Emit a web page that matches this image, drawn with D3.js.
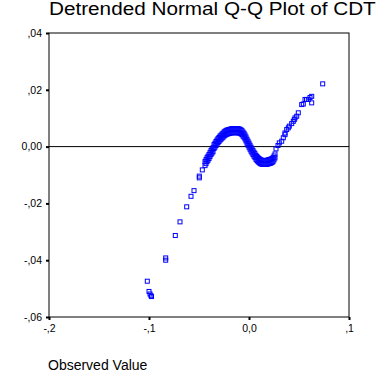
<!DOCTYPE html>
<html>
<head>
<meta charset="utf-8">
<script src="https://cdn.jsdelivr.net/npm/d3@7/dist/d3.min.js"></script>
<style>
  body { margin: 0; background: #fff; overflow: hidden; }
  text { font-family: "Liberation Sans", Arial, sans-serif; }
</style>
</head>
<body>
<script>
// tick values and their labels (SPSS style, comma decimals)
var xTicks = [-0.2, -0.1, 0.0, 0.1];
var xTickLabels = ["-,2", "-,1", "0,0", ",1"];
var yTicks = [0.04, 0.02, 0.00, -0.02, -0.04, -0.06];
var yTickLabels = [",04", ",02", "0,00", "-,02", "-,04", "-,06"];

var lowX = [-0.1017, -0.1000, -0.0990, -0.0980, -0.0975, -0.0833, -0.0833, -0.0737, -0.0690, -0.0623, -0.0580, -0.0550, -0.0497, -0.0497, -0.0467];
var lowY = [-0.0474, -0.0510, -0.0519, -0.0525, -0.0528, -0.0392, -0.0400, -0.0313, -0.0265, -0.0212, -0.0175, -0.0155, -0.0110, -0.0104, -0.0082];

// dense middle band: x, upper and lower edge of the band
var bandX = [-0.044, -0.043, -0.042, -0.041, -0.040, -0.039, -0.038, -0.037, -0.036, -0.035, -0.034, -0.033, -0.032, -0.031,
             -0.030, -0.029, -0.028, -0.027, -0.026, -0.025, -0.024, -0.023, -0.022, -0.021, -0.020, -0.019, -0.018, -0.017,
             -0.016, -0.015, -0.014, -0.013, -0.012, -0.011, -0.010, -0.009, -0.008, -0.007, -0.006, -0.005, -0.004, -0.003,
             -0.002, -0.001, 0.000, 0.001, 0.002, 0.003, 0.004, 0.005, 0.006, 0.007, 0.008, 0.009, 0.010, 0.011, 0.012, 0.013,
             0.014, 0.015, 0.016, 0.017, 0.018, 0.019, 0.020, 0.021, 0.022, 0.023, 0.024, 0.025, 0.026];
var bandHi = [-0.0053, -0.0046, -0.0039, -0.0034, -0.0028, -0.0021, -0.0014, -0.0009, -0.0004, 0.0007, 0.0012, 0.0018, 0.0023, 0.0028,
              0.0032, 0.0037, 0.0040, 0.0044, 0.0047, 0.0051, 0.0054, 0.0056, 0.0058, 0.0059, 0.0060, 0.0061, 0.0062, 0.0063,
              0.0063, 0.0063, 0.0063, 0.0063, 0.0063, 0.0063, 0.0062, 0.0061, 0.0059, 0.0056, 0.0051, 0.0047, 0.0041, 0.0034,
              0.0026, 0.0019, 0.0012, 0.0005, -0.0002, -0.0008, -0.0014, -0.0020, -0.0025, -0.0031, -0.0035, -0.0039, -0.0042,
              -0.0045, -0.0047, -0.0048, -0.0049, -0.0049, -0.0049, -0.0049, -0.0048, -0.0047, -0.0046, -0.0045, -0.0044,
              -0.0042, -0.0039, -0.0033, -0.0026];
var bandLo = [-0.0067, -0.0060, -0.0053, -0.0048, -0.0042, -0.0035, -0.0028, -0.0023, -0.0018, -0.0007, -0.0002, 0.0004, 0.0009, 0.0014,
              0.0018, 0.0023, 0.0026, 0.0030, 0.0033, 0.0037, 0.0040, 0.0042, 0.0044, 0.0045, 0.0046, 0.0047, 0.0048, 0.0049,
              0.0049, 0.0049, 0.0049, 0.0049, 0.0049, 0.0049, 0.0048, 0.0047, 0.0045, 0.0042, 0.0037, 0.0033, 0.0027, 0.0020,
              0.0012, 0.0005, -0.0002, -0.0009, -0.0016, -0.0022, -0.0028, -0.0034, -0.0039, -0.0045, -0.0049, -0.0053, -0.0056,
              -0.0059, -0.0061, -0.0062, -0.0063, -0.0063, -0.0063, -0.0063, -0.0062, -0.0061, -0.0060, -0.0059, -0.0058,
              -0.0056, -0.0053, -0.0047, -0.0040];

var highX = [0.0270, 0.0290, 0.0303, 0.0327, 0.0343, 0.0360, 0.0360, 0.0377, 0.0393, 0.0403, 0.0427, 0.0443, 0.0453, 0.0460,
             0.0477, 0.0493, 0.0527, 0.0543, 0.0560, 0.0575, 0.0593, 0.0610, 0.0627, 0.0627, 0.0737];
var highY = [-0.0008, 0.0004, 0.0013, 0.0019, 0.0031, 0.0042, 0.0048, 0.0060, 0.0066, 0.0072, 0.0081, 0.0089, 0.0095, 0.0101,
             0.0107, 0.0119, 0.0148, 0.0150, 0.0166, 0.0166, 0.0166, 0.0173, 0.0177, 0.0154, 0.0221];

var points = [];
lowX.forEach((x, i) => points.push([x, lowY[i]]));
bandX.forEach((x, i) => { points.push([x, bandHi[i]]); points.push([x, bandLo[i]]); });
highX.forEach((x, i) => points.push([x, highY[i]]));

var width = 377, height = 377;
var margin = {top: 33, right: 28, bottom: 60, left: 49};
var w = width - margin.left - margin.right;
var h = height - margin.top - margin.bottom;

var svg = d3.select("body").append("svg")
    .attr("width", width)
    .attr("height", height)
    .style("overflow", "hidden");

// title runs past the right edge, as in the original
svg.append("text")
    .attr("transform", "translate(" + margin.left + ",15) scale(1.12,1)")
    .attr("font-size", 18.5)
    .text("Detrended Normal Q-Q Plot of CDT");

var g = svg.append("g")
    .attr("transform", "translate(" + margin.left + "," + margin.top + ")");

var x = d3.scaleLinear().domain([-0.2, 0.1]).range([0, w]);
var y = d3.scaleLinear().domain([-0.06, 0.04]).range([h, 0]);

var xAxis = d3.axisBottom(x).tickValues(xTicks).tickSize(3).tickPadding(5)
    .tickFormat((d, i) => xTickLabels[i]);
var yAxis = d3.axisLeft(y).tickValues(yTicks).tickSize(3).tickPadding(4)
    .tickFormat((d, i) => yTickLabels[i]);

g.append("g").attr("transform", "translate(0," + h + ")").call(xAxis);
g.append("g").call(yAxis);
g.selectAll(".domain").remove();
g.selectAll(".tick line").attr("stroke", "#000").attr("stroke-width", 2);
g.selectAll(".tick text").attr("font-size", 10.5).attr("fill", "#000")
    .attr("font-family", "'Liberation Sans', Arial, sans-serif");

// frame
g.append("rect")
    .attr("x", 0).attr("y", 0)
    .attr("width", w).attr("height", h)
    .attr("fill", "none")
    .attr("stroke", "#000")
    .attr("stroke-width", 1);

// zero reference line
g.append("line")
    .attr("x1", 0).attr("x2", w)
    .attr("y1", y(0)).attr("y2", y(0))
    .attr("stroke", "#000")
    .attr("stroke-width", 1);

var s = 4;
g.selectAll("rect.pt")
    .data(points)
    .join("rect")
    .attr("class", "pt")
    .attr("x", d => x(d[0]) - s / 2)
    .attr("y", d => y(d[1]) - s / 2)
    .attr("width", s)
    .attr("height", s)
    .attr("fill", "none")
    .attr("stroke", "#0000ff")
    .attr("stroke-width", 1);

svg.append("text")
    .attr("x", margin.left - 1)
    .attr("y", 370)
    .attr("font-size", 14)
    .text("Observed Value");
</script>
</body>
</html>
